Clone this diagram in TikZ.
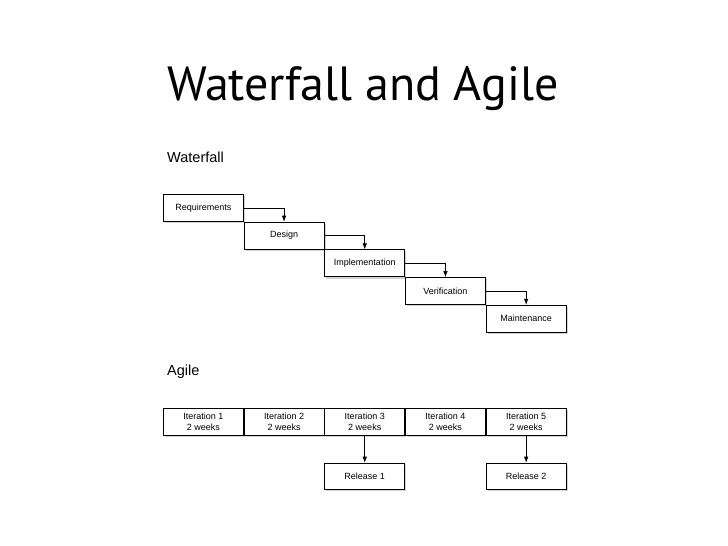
\documentclass[tikz,border=0pt]{standalone}
\usepackage{fontspec}
\setmainfont{Liberation Sans}
\newfontfamily\titlefont{PT Sans}
\usetikzlibrary{positioning, arrows.meta, shadows}

\begin{document}
\begin{tikzpicture}[x=1pt, y=-1pt,
  box/.style={draw, line width=0.7pt, fill=white, inner sep=0pt,
    minimum width=80pt, minimum height=27pt, align=center,
    font=\fontsize{9}{11}\selectfont,
    drop shadow={shadow xshift=1.5pt, shadow yshift=-2pt, opacity=0.35}},
  flow/.style={line width=0.6pt, -{Latex[length=6pt, width=4.5pt]}}]
  \useasboundingbox (0,0) rectangle (728,546);
  \node[anchor=base west, inner sep=0pt, font=\titlefont\fontsize{48}{48}\selectfont] (title) at (167,100) {Waterfall and Agile};
  \node[anchor=base west, inner sep=0pt, font=\fontsize{14.5}{16}\selectfont] (wflabel) at (167,162) {Waterfall};
  \node[anchor=base west, inner sep=0pt, font=\fontsize{14.5}{16}\selectfont] (aglabel) at (167,375) {Agile};

  % waterfall steps
  \node[box, anchor=north west] (req) at (163,194) {Requirements};
  \node[box, below right=0pt and 0pt of req] (design) {Design};
  \node[box, below right=0pt and 0pt of design] (impl) {Implementation};
  \node[box, below right=0pt and 0pt of impl] (verif) {Verification};
  \node[box, below right=0pt and 0pt of verif] (maint) {Maintenance};
  \draw[flow] (req.east) -| (design.north);
  \draw[flow] (design.east) -| (impl.north);
  \draw[flow] (impl.east) -| (verif.north);
  \draw[flow] (verif.east) -| (maint.north);

  % agile iterations
  \node[box, anchor=north west] (iter1) at (163,408) {Iteration 1\\2 weeks};
  \node[box, right=0pt of iter1] (iter2) {Iteration 2\\2 weeks};
  \node[box, right=0pt of iter2] (iter3) {Iteration 3\\2 weeks};
  \node[box, right=0pt of iter3] (iter4) {Iteration 4\\2 weeks};
  \node[box, right=0pt of iter4] (iter5) {Iteration 5\\2 weeks};
  \node[box, minimum height=26pt, below=27pt of iter3] (rel1) {Release 1};
  \node[box, minimum height=26pt, below=27pt of iter5] (rel2) {Release 2};
  \draw[flow] (iter3) -- (rel1);
  \draw[flow] (iter5) -- (rel2);
\end{tikzpicture}
\end{document}
